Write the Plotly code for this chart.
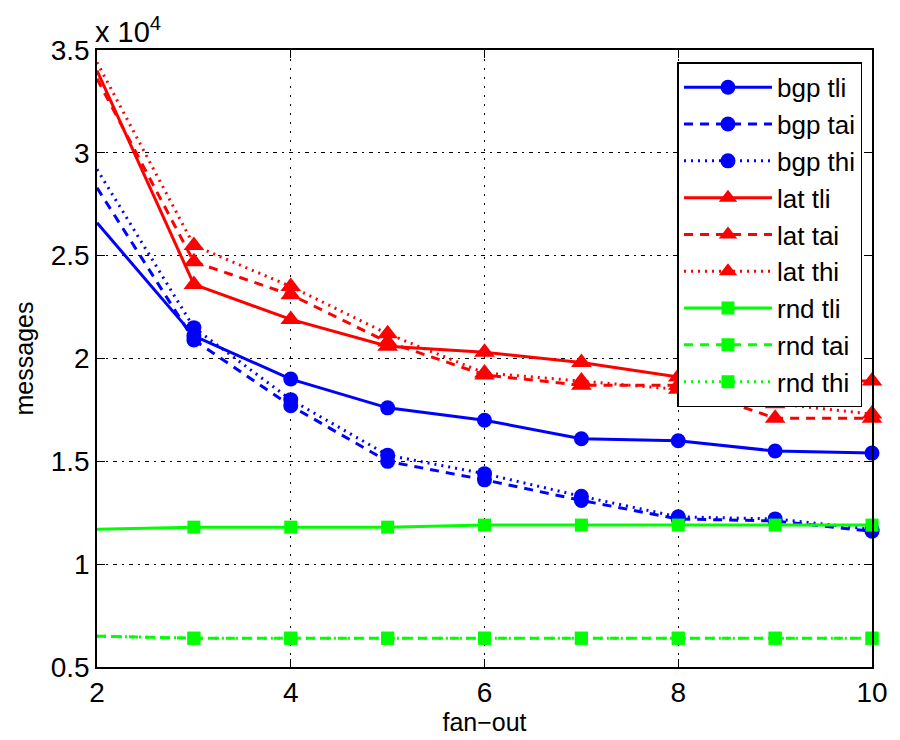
import plotly.graph_objects as go

# fan-out values on the x axis
fanout = [2, 3, 4, 5, 6, 7, 8, 9, 10]

# message counts per strategy
bgp_tli = [26600, 21100, 19000, 17600, 17000, 16100, 16000, 15500, 15400]
bgp_tai = [28300, 20900, 17700, 15000, 14100, 13100, 12200, 12100, 11600]
bgp_thi = [29200, 21500, 18000, 15300, 14400, 13300, 12300, 12200, 11700]
lat_tli = [34000, 23600, 21900, 20600, 20300, 19800, 19100, 18900, 18900]
lat_tai = [33600, 24700, 23100, 20800, 19200, 18700, 18700, 17100, 17100]
lat_thi = [34400, 25500, 23500, 21200, 19300, 18900, 18500, 17800, 17300]
rnd_tli = [11700, 11800, 11800, 11800, 11900, 11900, 11900, 11900, 11900]
rnd_tai = [6500, 6400, 6400, 6400, 6400, 6400, 6400, 6400, 6400]
rnd_thi = [6500, 6400, 6400, 6400, 6400, 6400, 6400, 6400, 6400]

# y tick labels (in units of 10^4)
ytick_vals = [5000, 10000, 15000, 20000, 25000, 30000, 35000]
ytick_text = ["0.5", "1", "1.5", "2", "2.5", "3", "3.5"]
xtick_vals = [2, 4, 6, 8, 10]

BLUE = "#0000ff"
RED = "#ff0000"
GREEN = "#00ff00"
FONT = "Liberation Sans, Arial, sans-serif"

series = [
    ("bgp tli", bgp_tli, BLUE, "solid", "circle", 15),
    ("bgp tai", bgp_tai, BLUE, "9px,7px", "circle", 15),
    ("bgp thi", bgp_thi, BLUE, "2px,5px", "circle", 15),
    ("lat tli", lat_tli, RED, "solid", "triangle-up", 18),
    ("lat tai", lat_tai, RED, "9px,7px", "triangle-up", 18),
    ("lat thi", lat_thi, RED, "2px,5px", "triangle-up", 18),
    ("rnd tli", rnd_tli, GREEN, "solid", "square", 13),
    ("rnd tai", rnd_tai, GREEN, "9px,7px", "square", 13),
    ("rnd thi", rnd_thi, GREEN, "2px,5px", "square", 13),
]

fig = go.Figure()
for name, vals, color, dash, sym, size in series:
    # first segment carries no marker
    fig.add_trace(go.Scatter(
        x=fanout[:2], y=vals[:2], mode="lines", showlegend=False,
        line=dict(color=color, width=3, dash=dash), hoverinfo="skip",
        cliponaxis=False, legendgroup=name,
    ))
    fig.add_trace(go.Scatter(
        x=fanout[1:], y=vals[1:], mode="lines+markers", name=name,
        line=dict(color=color, width=3, dash=dash),
        marker=dict(symbol=sym, size=size, color=color),
        cliponaxis=False, legendgroup=name,
    ))

axis_common = dict(
    showline=True, linecolor="black", linewidth=1.5, mirror="ticks",
    ticks="inside", ticklen=8, tickwidth=1.2, tickcolor="black",
    showgrid=True, gridcolor="black", gridwidth=1, zeroline=False,
    tickfont=dict(family=FONT, size=28, color="black"),
)

fig.update_xaxes(
    range=[2, 10], tickvals=xtick_vals, griddash="2px,7px",
    title=dict(text="fan\u2212out", font=dict(family=FONT, size=25, color="black"), standoff=2),
    **axis_common,
)
fig.update_yaxes(
    range=[5000, 35000], tickvals=ytick_vals, ticktext=ytick_text, griddash="4px,5px,2px,5px",
    title=dict(text="messages", font=dict(family=FONT, size=25, color="black"), standoff=10),
    **axis_common,
)

fig.add_annotation(
    x=0, y=1, xref="paper", yref="paper", xanchor="left", yanchor="bottom",
    text="x 10<sup>4</sup>", showarrow=False, yshift=0, xshift=-4,
    font=dict(family=FONT, size=29, color="black"),
)

fig.update_layout(
    width=900, height=740,
    margin=dict(l=97, r=18, t=50, b=72),
    paper_bgcolor="white", plot_bgcolor="white",
    showlegend=True,
    legend=dict(
        x=0.749, y=0.98, xanchor="left", yanchor="top",
        bgcolor="white", bordercolor="black", borderwidth=1.5,
        font=dict(family=FONT, size=26, color="black"),
        tracegroupgap=0, itemwidth=88,
    ),
)

fig.write_html("out.html")
